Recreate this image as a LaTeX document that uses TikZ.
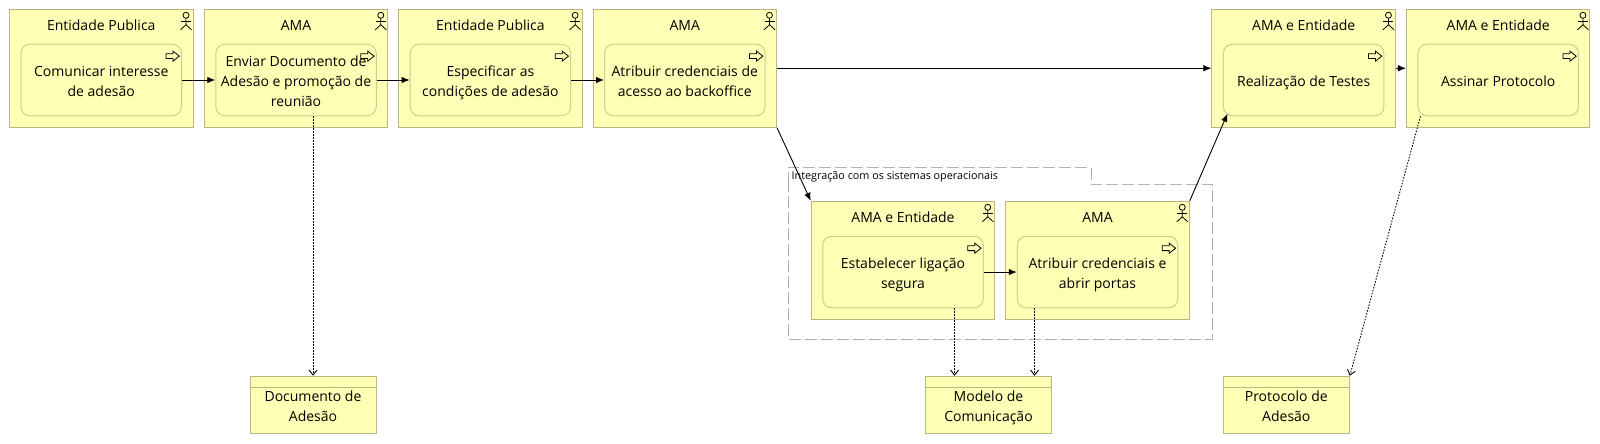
\documentclass[tikz,border=0pt]{standalone}
\usepackage{fontspec}
\setmainfont{Open Sans}
\usetikzlibrary{arrows.meta}

\definecolor{boxfill}{RGB}{255,255,181}
\definecolor{boxline}{RGB}{184,184,130}
\definecolor{procline}{RGB}{205,205,150}
\definecolor{groupline}{RGB}{178,178,178}

% text block set a little below the middle of its box
\newcommand{\lowlines}[1]{\begin{tabular}{@{}c@{}}\rule{0pt}{19.5pt}#1\end{tabular}}

\tikzset{
  rolebox/.style={draw=boxline, fill=boxfill, line width=1pt, minimum width=183.5pt, minimum height=118pt, inner sep=0pt},
  procbox/.style={draw=procline, fill=boxfill, line width=1pt, rounded corners=9pt, minimum width=160.5pt, minimum height=71.5pt, inner sep=0pt, font=\fontsize{14}{20}\selectfont},
  objbox/.style={draw=boxline, fill=boxfill, line width=1pt, minimum width=126pt, minimum height=57.5pt, inner sep=0pt, font=\fontsize{14}{20}\selectfont},
  titletext/.style={inner sep=0pt, font=\fontsize{14}{20}\selectfont},
  flow/.style={-{Latex[length=8pt,width=6.5pt]}, line width=0.9pt},
  access/.style={-{Straight Barb[length=5pt,width=8pt]}, line width=0.9pt, dash pattern=on 1.5pt off 1.5pt},
  actor/.pic={
    \draw[line width=0.8pt] (-7.5,6.5) circle (3pt);
    \draw[line width=0.8pt] (-7.5,9.5) -- (-7.5,16) -- (-13,21);
    \draw[line width=0.8pt] (-7.5,16) -- (-2,21);
    \draw[line width=0.8pt] (-12.5,12.5) -- (-2.5,12.5);
  },
  procicon/.pic={
    \draw[line width=0.8pt] (-16,10) -- (-9,10) -- (-9,7.4) -- (-2.7,12.4) -- (-9,17.4) -- (-9,14.8) -- (-16,14.8) -- cycle;
  }
}

\begin{document}
\begin{tikzpicture}[x=1pt, y=-1pt]

  \useasboundingbox (0,0) rectangle (1600,444);

  % Group frame
  \coordinate (gA) at (788.3,184.3);
  \coordinate (gB) at (788.3,167.3);
  \coordinate (gC) at (1091,167.3);
  \coordinate (gD) at (1091,184.3);
  \coordinate (gE) at (1212.3,184.3);
  \coordinate (gF) at (1212.3,339.3);
  \coordinate (gG) at (788.3,339.3);
  \draw[groupline, line width=1pt, dash pattern=on 12pt off 4pt] (gA) -- (gB) -- (gC) -- (gD) -- (gE) -- (gF) -- (gG) -- cycle;
  \node[anchor=west, inner sep=0pt, font=\fontsize{10.8}{12}\selectfont] (gText) at (791.5,176.5) {Integração com os sistemas operacionais};

  % Role boxes
  \node[rolebox] (pub1) at (101.25,68.25) {};
  \node[rolebox] (ama1) at (296,68.25) {};
  \node[rolebox] (pub2) at (490.4,68.25) {};
  \node[rolebox] (ama2) at (684.75,68.25) {};
  \node[rolebox] (ent1) at (1303.7,68.25) {};
  \node[rolebox] (ent2) at (1498.2,68.25) {};
  \node[rolebox] (ent3) at (903,260.3) {};
  \node[rolebox] (ama3) at (1097.5,260.3) {};

  % Role titles
  \node[titletext] (tPub1) at ([yshift=43pt]pub1.center) {Entidade Publica};
  \node[titletext] (tAma1) at ([yshift=43pt]ama1.center) {AMA};
  \node[titletext] (tPub2) at ([yshift=43pt]pub2.center) {Entidade Publica};
  \node[titletext] (tAma2) at ([yshift=43pt]ama2.center) {AMA};
  \node[titletext] (tEnt1) at ([yshift=43pt]ent1.center) {AMA e Entidade};
  \node[titletext] (tEnt2) at ([yshift=43pt]ent2.center) {AMA e Entidade};
  \node[titletext] (tEnt3) at ([yshift=43pt]ent3.center) {AMA e Entidade};
  \node[titletext] (tAma3) at ([yshift=43pt]ama3.center) {AMA};

  % Processes
  \node[procbox] (comunicar) at ([yshift=-11.75pt]pub1.center) {\lowlines{Comunicar interesse\\de adesão}};
  \node[procbox] (enviar) at ([yshift=-11.75pt]ama1.center) {\lowlines{Enviar Documento de\\Adesão e promoção de\\reunião}};
  \node[procbox] (especificar) at ([yshift=-11.75pt]pub2.center) {\lowlines{Especificar as\\condições de adesão}};
  \node[procbox] (atribuir) at ([yshift=-11.75pt]ama2.center) {\lowlines{Atribuir credenciais de\\acesso ao backoffice}};
  \node[procbox] (testes) at ([yshift=-11.75pt]ent1.center) {\lowlines{Realização de Testes}};
  \node[procbox] (assinar) at ([yshift=-11.75pt]ent2.center) {\lowlines{Assinar Protocolo}};
  \node[procbox] (ligacao) at ([yshift=-11.75pt]ent3.center) {\lowlines{Estabelecer ligação\\segura}};
  \node[procbox] (portas) at ([yshift=-11.75pt]ama3.center) {\lowlines{Atribuir credenciais e\\abrir portas}};

  % Icons
  \foreach \b in {pub1,ama1,pub2,ama2,ent1,ent2,ent3,ama3}
    \pic at (\b.north east) {actor};
  \foreach \p in {comunicar,enviar,especificar,atribuir,testes,assinar,ligacao,portas}
    \pic at (\p.north east) {procicon};

  % Data objects
  \node[objbox] (docAdesao) at (313,405) {\lowlines{Documento de\\Adesão}};
  \node[objbox] (modelo) at (988.5,405) {\lowlines{Modelo de\\Comunicação}};
  \node[objbox] (protocolo) at (1286.3,405) {\lowlines{Protocolo de\\Adesão}};
  \foreach \o in {docAdesao,modelo,protocolo}
    \draw[boxline, line width=1pt] ([yshift=-11.4pt]\o.north west) -- ([yshift=-11.4pt]\o.north east);

  % Flows
  \draw[flow] (comunicar) -- (enviar);
  \draw[flow] (enviar) -- (especificar);
  \draw[flow] (especificar) -- (atribuir);
  \draw[flow] (ama2) -- (ent1);
  \draw[flow] (ent1) -- (ent2);
  \draw[flow] (ligacao) -- (portas);
  \draw[flow] (ama2.south east) -- (ent3.north west);
  \draw[flow] (ama3.north east) -- ([xshift=4.5pt,yshift=2.5pt]testes.south west);

  % Access relations
  \draw[access] (docAdesao.north |- enviar.south) -- (docAdesao.north);
  \draw[access] ([xshift=-34pt]modelo.north |- ligacao.south) -- ([xshift=-34pt]modelo.north);
  \draw[access] ([xshift=46pt]modelo.north |- portas.south) -- ([xshift=46pt]modelo.north);
  \draw[access] ([xshift=3pt]assinar.south west) -- (protocolo.north east);

\end{tikzpicture}
\end{document}
